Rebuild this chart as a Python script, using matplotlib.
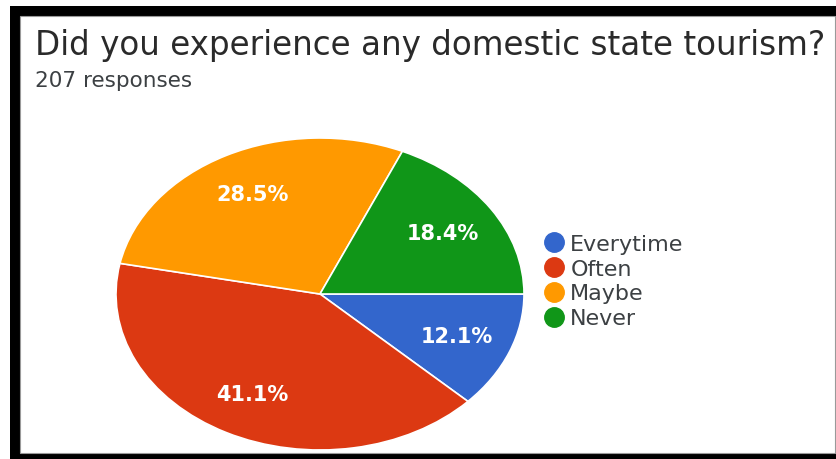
import matplotlib.pyplot as plt
from matplotlib.patches import Rectangle
from matplotlib.lines import Line2D

labels = ['Everytime', 'Often', 'Maybe', 'Never']
shares = [12.1, 41.1, 28.5, 18.4]
colors = ['#3366cc', '#dc3912', '#ff9900', '#109618']
title = 'Did you experience any domestic state tourism?'
subtitle = '207 responses'

W, H = 837, 460
fig = plt.figure(figsize=(W / 100, H / 100), dpi=100, facecolor='white')
plt.rcParams['font.family'] = ['DejaVu Sans']

# black screenshot frame around the card
fig.patches.append(Rectangle((10 / W, 0), (W - 10) / W, (H - 7) / H,
                             transform=fig.transFigure, facecolor='black',
                             edgecolor='none', zorder=-2))
fig.patches.append(Rectangle((20 / W, 6 / H), 815 / W, (H - 17 - 6) / H,
                             transform=fig.transFigure, facecolor='white',
                             edgecolor='#9a9a9a', linewidth=0.8, zorder=-1))

fig.text(35 / W, 1 - 46 / H, title, fontsize=23.5, color='#2a2a2a',
         va='center', ha='left')
fig.text(35 / W, 1 - 81 / H, subtitle, fontsize=15.5, color='#3c4043',
         va='center', ha='left')

# pie is stretched horizontally, so the axes box is wider than tall
cx, cy, rx, ry = 320, 295, 204, 156
ax = fig.add_axes([(cx - rx) / W, 1 - (cy + ry) / H, 2 * rx / W, 2 * ry / H])
wedges, texts, autotexts = ax.pie(
    shares, colors=colors, startangle=0, counterclock=False,
    autopct='%.1f%%', pctdistance=0.72,
    wedgeprops=dict(edgecolor='white', linewidth=1.2),
    textprops=dict(color='white', fontsize=15, fontweight='bold'))
ax.set_aspect('auto')
ax.set_xlim(-1.0, 1.0)
ax.set_ylim(-1.0, 1.0)
ax.axis('off')

handles = [Line2D([], [], linestyle='none', marker='o', markersize=14,
                  markerfacecolor=c, markeredgecolor=c) for c in colors]
fig.legend(handles, labels, loc='center left',
           bbox_to_anchor=(537 / W, 1 - 282 / H), frameon=False, fontsize=16,
           handlelength=0.7, handletextpad=0.4, labelspacing=0.22,
           borderaxespad=0, labelcolor='#3c4043')

fig.savefig('out.png', dpi=100, facecolor='white')
